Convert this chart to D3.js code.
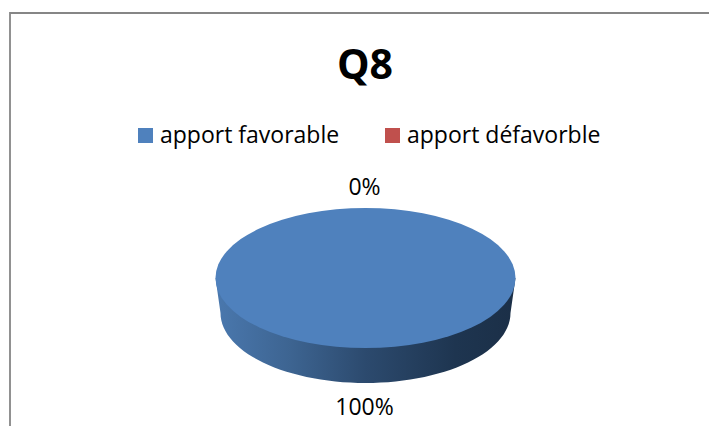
<!DOCTYPE html>
<html>
<head>
<meta charset="utf-8">
<script src="https://cdn.jsdelivr.net/npm/d3@7"></script>
<style>
html, body { margin: 0; padding: 0; background: #fff; }
svg { display: block; }
text { font-family: "Open Sans", sans-serif; fill: #000; }
</style>
</head>
<body>
<svg id="chart"></svg>
<script>
var title = "Q8";
var categories = ["apport favorable", "apport défavorble"];
var values = [100, 0];
var labels = ["100%", "0%"];
var colors = ["#4f81bd", "#c0504d"];

var width = 709, height = 426;
var cx = 365.5, cy = 278, rx = 150, ry = 70;
var bottomCy = 313, bottomRx = 145;

var svg = d3.select("#chart").attr("width", width).attr("height", height);

// frame, open on the right and bottom
svg.append("path")
    .attr("d", d3.line()([[10, height], [10, 13], [width, 13]]))
    .attr("fill", "none")
    .attr("stroke", "#868686")
    .attr("stroke-width", 1.8);

svg.append("text")
    .attr("x", 365).attr("y", 79)
    .attr("text-anchor", "middle")
    .attr("font-size", 41).attr("font-weight", "bold")
    .text(title);

var legendX = d3.scaleOrdinal().domain(categories).range([138, 385]);

var legend = svg.append("g").selectAll("g")
    .data(categories)
    .join("g")
    .attr("transform", d => `translate(${legendX(d)},128)`);

legend.append("rect")
    .attr("width", 15).attr("height", 15)
    .attr("fill", (d, i) => colors[i]);

legend.append("text")
    .attr("x", 22).attr("y", 15)
    .attr("font-size", 23)
    .text(d => d);

var defs = svg.append("defs");
var grad = defs.append("linearGradient").attr("id", "side");
grad.selectAll("stop")
    .data([["0%", "#4a78ae"], ["25%", "#3d6491"], ["50%", "#2c4a6e"], ["80%", "#1e3550"], ["100%", "#1b2f47"]])
    .join("stop")
    .attr("offset", d => d[0])
    .attr("stop-color", d => d[1]);

// wall of the disc: top rim ends joined by the lower half of a narrower ellipse
var wallAngles = d3.range(0, 181, 3).map(d => d * Math.PI / 180);
var wallPoints = [[cx + rx, cy]]
    .concat(wallAngles.map(a => [cx + bottomRx * Math.cos(a), bottomCy + ry * Math.sin(a)]))
    .concat([[cx - rx, cy]]);

svg.append("path")
    .attr("d", d3.line()(wallPoints) + "Z")
    .attr("fill", "url(#side)");

// pie drawn flat then squashed into an ellipse
var pie = d3.pie().sort(null).value(d => d);
var arc = d3.arc().innerRadius(0).outerRadius(1);

svg.append("g")
    .attr("transform", `translate(${cx},${cy}) scale(${rx},${ry})`)
    .selectAll("path")
    .data(pie(values))
    .join("path")
    .attr("d", arc)
    .attr("fill", (d, i) => colors[i]);

var labelPos = [[364.5, 414.5], [364.5, 195]];
svg.append("g").selectAll("text")
    .data(labels)
    .join("text")
    .attr("x", (d, i) => labelPos[i][0])
    .attr("y", (d, i) => labelPos[i][1])
    .attr("text-anchor", "middle")
    .attr("font-size", 23)
    .text(d => d);
</script>
</body>
</html>
